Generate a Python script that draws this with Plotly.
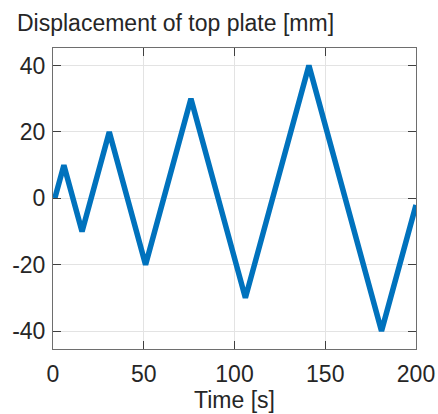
import plotly.graph_objects as go

time_s = [1, 6, 16, 31, 51, 76, 106, 141, 181, 200]
displacement_mm = [0, 10, -10, 20, -20, 30, -30, 40, -40, -2]

x_ticks = [0, 50, 100, 150, 200]
y_ticks = [-40, -20, 0, 20, 40]

TXT = "#262626"
FONT = "Liberation Sans, Arial, sans-serif"

fig = go.Figure()
fig.add_trace(go.Scatter(
    x=time_s, y=displacement_mm, mode="lines",
    line=dict(color="#0072BD", width=5.5),
    showlegend=False, hoverinfo="skip",
))

axis_common = dict(
    showline=True, linecolor="#6e6e6e", linewidth=1, mirror="ticks",
    ticks="inside", ticklen=8, tickwidth=1, tickcolor="#404040",
    showgrid=True, gridcolor="#e3e3e3", gridwidth=1,
    zeroline=False, automargin=False,
    tickfont=dict(family=FONT, size=23, color=TXT),
)

fig.update_layout(
    width=438, height=414,
    margin=dict(l=53, r=22, t=48, b=65),
    paper_bgcolor="white", plot_bgcolor="white",
    title=dict(
        text="Displacement of top plate [mm]",
        font=dict(family=FONT, size=23, color=TXT),
        xref="container", yref="container",
        x=17/438, xanchor="left", y=1-15/414, yanchor="top",
        pad=dict(l=0, r=0, t=0, b=0),
    ),
    xaxis=dict(
        range=[0, 200], tickvals=x_ticks, ticktext=[str(v) for v in x_ticks],
        ticklabelstandoff=4,
        title=dict(text="Time [s]", font=dict(family=FONT, size=23, color=TXT), standoff=6),
        **axis_common,
    ),
    yaxis=dict(
        range=[-45.4, 45.3], tickvals=y_ticks, ticktext=[str(v) for v in y_ticks],
        ticklabelstandoff=2,
        **axis_common,
    ),
)

fig.write_html("out.html", config={"displayModeBar": False},
               post_script="document.body.style.margin='0';")
